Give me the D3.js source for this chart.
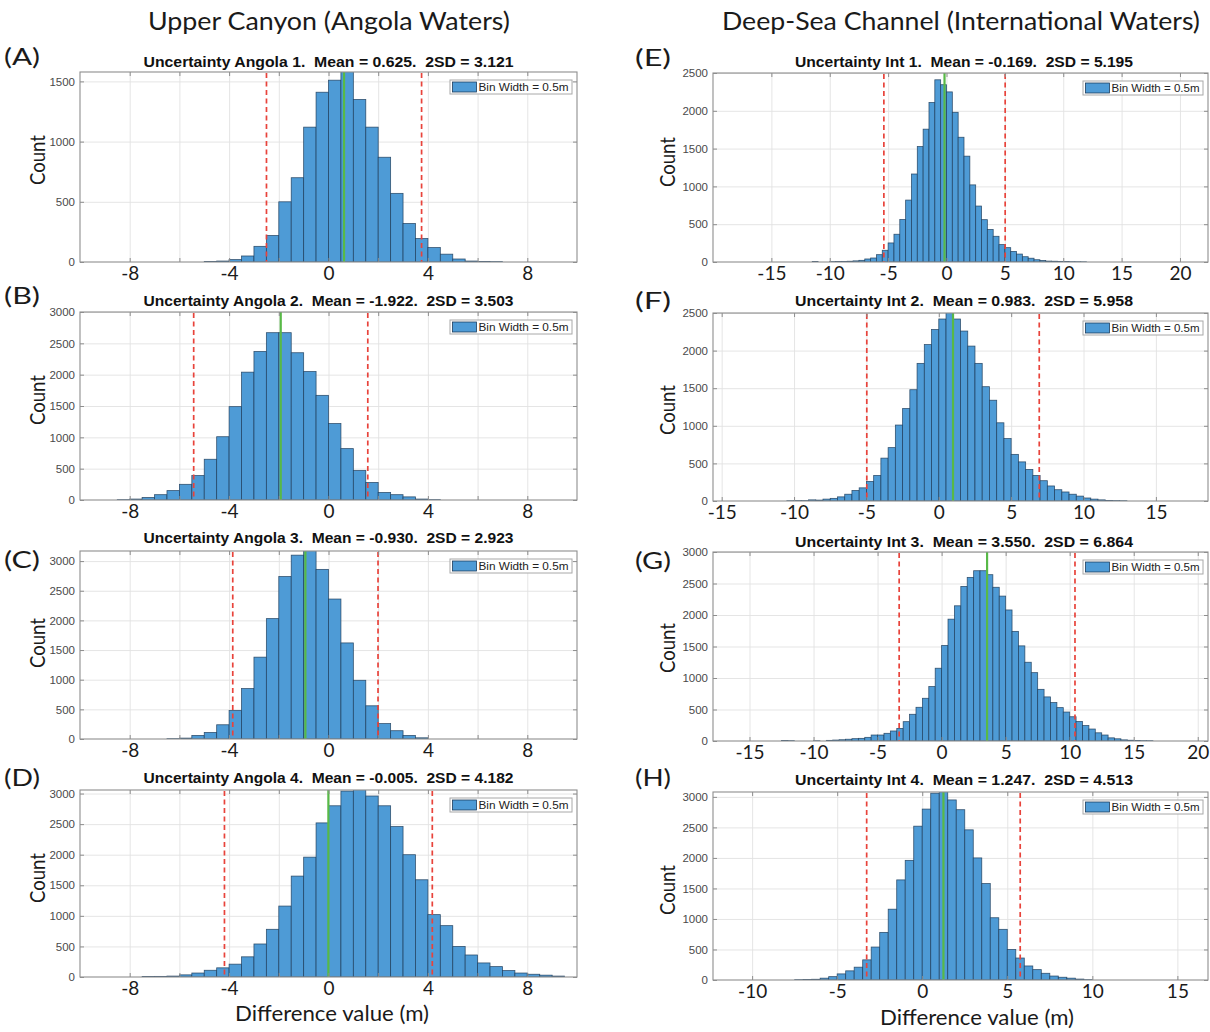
<!DOCTYPE html>
<html><head><meta charset="utf-8">
<script src="https://cdn.jsdelivr.net/npm/d3@7/dist/d3.min.js"></script>
<style>
body{margin:0;background:#fff}
text{white-space:pre}
</style>
</head><body>
<svg id="chart" width="1210" height="1032"></svg>
<script>
// ---------------- DATA ----------------
const panelIds = ["A","B","C","D","E","F","G","H"];
const columnHeaders = ["Upper Canyon (Angola Waters)", "Deep-Sea Channel (International Waters)"];
const titles = [
  "Uncertainty Angola 1.  Mean = 0.625.  2SD = 3.121",
  "Uncertainty Angola 2.  Mean = -1.922.  2SD = 3.503",
  "Uncertainty Angola 3.  Mean = -0.930.  2SD = 2.923",
  "Uncertainty Angola 4.  Mean = -0.005.  2SD = 4.182",
  "Uncertainty Int 1.  Mean = -0.169.  2SD = 5.195",
  "Uncertainty Int 2.  Mean = 0.983.  2SD = 5.958",
  "Uncertainty Int 3.  Mean = 3.550.  2SD = 6.864",
  "Uncertainty Int 4.  Mean = 1.247.  2SD = 4.513"
];
const means = [0.625, -1.922, -0.930, -0.005, -0.169, 0.983, 3.550, 1.247];
const twoSD = [3.121, 3.503, 2.923, 4.182, 5.195, 5.958, 6.864, 4.513];
const binWidth = 0.5;
const legendLabel = "Bin Width = 0.5m";
const xLabel = "Difference value (m)";
const yLabel = "Count";

// first bin left edge for each panel
const binStart = [-5, -8.5, -6.5, -7.5, -11.5, -10.5, -12.5, -7.5];

const countsA = [4,8,20,50,130,220,500,700,1120,1410,1510,1650,1350,1120,870,570,320,195,120,65,25,8,5,3];
const countsB = [5,15,40,85,150,250,390,650,1010,1490,2040,2370,2670,2670,2350,2050,1670,1220,820,470,280,120,85,50,15,5];
const countsC = [5,15,60,110,240,480,850,1380,2030,2740,3100,3250,2860,2360,1620,990,560,260,140,60,20];
const countsD = [8,10,15,35,65,110,150,210,330,540,780,1160,1650,1960,2520,2800,3040,3100,2960,2800,2460,2000,1590,1020,840,500,360,230,170,105,65,45,30,15];
const countsE = [6,0,0,5,6,8,10,15,22,40,53,97,155,252,367,562,819,1164,1527,1757,2110,2410,2345,2250,1980,1650,1400,1020,740,560,430,340,230,190,140,105,70,50,30,20,12,10,8,6,4,3,2];
const countsF = [3,5,5,15,12,25,35,55,90,140,175,260,340,570,710,1010,1230,1480,1830,2080,2280,2420,2560,2420,2260,2060,1830,1520,1340,1040,830,620,520,420,340,270,200,150,120,90,65,40,25,15,8,5,3];
const countsG = [8,5,0,0,0,3,0,10,15,20,28,37,42,58,95,95,122,159,200,307,424,535,678,864,1155,1516,1934,2146,2454,2597,2703,2703,2640,2440,2300,2080,1740,1510,1250,1085,820,700,610,530,460,385,310,245,190,130,95,50,35,18,12,8,5,4];
const countsH = [5,8,12,30,55,100,150,210,330,540,780,1160,1640,1960,2520,2800,3060,3100,2950,2790,2460,2000,1580,1020,830,500,360,230,170,110,65,45,30,15,5];
const allCounts = [countsA,countsB,countsC,countsD,countsE,countsF,countsG,countsH];

// axis limits and tick values
const xLimits = [[-10,10],[-10,10],[-10,10],[-10,10],[-20.0,22.4],[-15.6,18.6],[-17.85,20.8],[-12.3,16.8]];
const yLimits = [1578, 3000, 3170, 3058, 2500, 2500, 3000, 3080];
const leftGridTicks = [-8,-6,-4,-2,0,2,4,6,8];
const leftTickLabels = [-8,-4,0,4,8];
const rightTickLabels = [
  [-15,-10,-5,0,5,10,15,20],
  [-15,-10,-5,0,5,10,15],
  [-15,-10,-5,0,5,10,15,20],
  [-10,-5,0,5,10,15]
];
const yTickSets = [
  [0,500,1000,1500],
  [0,500,1000,1500,2000,2500,3000],
  [0,500,1000,1500,2000,2500,3000],
  [0,500,1000,1500,2000,2500,3000],
  [0,500,1000,1500,2000,2500],
  [0,500,1000,1500,2000,2500],
  [0,500,1000,1500,2000,2500,3000],
  [0,500,1000,1500,2000,2500,3000]
];

// ---------------- LAYOUT ----------------
const boxes = [ // [x0, y0, x1, y1]
  [80,72,577,262],[80,312,577,500],[80,551,577,739],[80,790,577,977],
  [713,73,1208,262],[713,313,1208,501],[713,552,1208,741],[713,792,1208,980]
];
const titleY = [67,306,543,783,67,306,547,785];
const letterY = [65,304,568,786,66,309,569,786];
const countY = [160,400,643,878,162,410,648,890];

const C = {
  bar:"#4e9bd6", barEdge:"#1d3d5c", grid:"#e2e2e2", box:"#8e8e8e",
  red:"#e8433b", green:"#58b947", ytick:"#4a4a4a", text:"#1a1a1a"
};
const bigFont = "Lato, 'Open Sans', sans-serif";
const smallFont = "'Liberation Sans', Arial, sans-serif";
const plainNum = d => String(d);

const svg = d3.select("#chart");
svg.append("rect").attr("width",1210).attr("height",1032).attr("fill","#fff");

function fit(sel, w){ sel.attr("textLength", w).attr("lengthAdjust","spacingAndGlyphs"); return sel; }

// column headers
svg.append("text").attr("x",329).attr("y",30).attr("text-anchor","middle")
  .attr("font-family",bigFont).attr("font-size",25).attr("fill",C.text)
  .text(columnHeaders[0]).call(fit,362);
svg.append("text").attr("x",961).attr("y",30).attr("text-anchor","middle")
  .attr("font-family",bigFont).attr("font-size",25).attr("fill",C.text)
  .text(columnHeaders[1]).call(fit,478);

panelIds.forEach((id, i) => {
  const [x0,y0,x1,y1] = boxes[i];
  const right = i >= 4;
  const x = d3.scaleLinear().domain(xLimits[i]).range([x0,x1]);
  const y = d3.scaleLinear().domain([0, yLimits[i]]).range([y1,y0]);
  const g = svg.append("g");
  const clipId = "clip" + id;
  g.append("clipPath").attr("id",clipId).append("rect")
    .attr("x",x0).attr("y",y0).attr("width",x1-x0).attr("height",y1-y0);

  const gridTicks = right ? rightTickLabels[i-4] : leftGridTicks;
  const labelTicks = right ? rightTickLabels[i-4] : leftTickLabels;
  const yTicks = yTickSets[i];

  // gridlines via axes
  const gx = g.append("g").attr("transform",`translate(0,${y1})`)
    .call(d3.axisBottom(x).tickValues(gridTicks).tickSize(-(y1-y0)).tickFormat(""));
  gx.select(".domain").remove();
  gx.selectAll("line").attr("stroke",C.grid).attr("stroke-width",0.9);
  const gy = g.append("g").attr("transform",`translate(${x0},0)`)
    .call(d3.axisLeft(y).tickValues(yTicks.filter(v=>v>0)).tickSize(-(x1-x0)).tickFormat(""));
  gy.select(".domain").remove();
  gy.selectAll("line").attr("stroke",C.grid).attr("stroke-width",0.9);

  // bars
  const counts = allCounts[i];
  const bins = counts.map((c,k)=>({x0: binStart[i] + k*binWidth, x1: binStart[i] + (k+1)*binWidth, c}))
    .filter(b=>b.c>0);
  g.append("g").attr("clip-path",`url(#${clipId})`).selectAll("rect").data(bins).join("rect")
    .attr("x",b=>x(b.x0)).attr("width",b=>x(b.x1)-x(b.x0))
    .attr("y",b=>y(b.c)).attr("height",b=>y(0)-y(b.c))
    .attr("fill",C.bar).attr("stroke",C.barEdge).attr("stroke-width",0.8).attr("stroke-opacity",0.85);

  // mean and 2SD lines
  const m = means[i], s = twoSD[i];
  [m - s, m + s].forEach(v => {
    g.append("line").attr("x1",x(v)).attr("x2",x(v)).attr("y1",y0+1).attr("y2",y1)
      .attr("stroke",C.red).attr("stroke-width",1.7).attr("stroke-dasharray","5,3.5");
  });
  g.append("line").attr("x1",x(m)).attr("x2",x(m)).attr("y1",y0).attr("y2",y1)
    .attr("stroke",C.green).attr("stroke-width",2.2);

  // box
  g.append("rect").attr("x",x0).attr("y",y0).attr("width",x1-x0).attr("height",y1-y0)
    .attr("fill","none").attr("stroke",C.box).attr("stroke-width",1.1);

  // inward tick marks
  const tb = g.append("g").attr("transform",`translate(0,${y1})`)
    .call(d3.axisBottom(x).tickValues(gridTicks).tickSize(-4).tickFormat(""));
  const tt = g.append("g").attr("transform",`translate(0,${y0})`)
    .call(d3.axisTop(x).tickValues(gridTicks).tickSize(-4).tickFormat(""));
  const tl = g.append("g").attr("transform",`translate(${x0},0)`)
    .call(d3.axisLeft(y).tickValues(yTicks).tickSize(-4).tickFormat(""));
  const tr = g.append("g").attr("transform",`translate(${x1},0)`)
    .call(d3.axisRight(y).tickValues(yTicks).tickSize(-4).tickFormat(""));
  [tb,tt,tl,tr].forEach(a=>{a.select(".domain").remove(); a.selectAll("line").attr("stroke",C.box);});

  // y tick labels
  const yl = g.append("g").attr("transform",`translate(${x0},0)`)
    .call(d3.axisLeft(y).tickValues(yTicks).tickSize(0).tickPadding(5).tickFormat(plainNum));
  yl.select(".domain").remove();
  yl.selectAll("text").attr("font-family",smallFont).attr("font-size",11.5).attr("fill",C.ytick);

  // x tick labels
  const xl = g.append("g").attr("transform",`translate(0,${y1})`)
    .call(d3.axisBottom(x).tickValues(labelTicks).tickSize(0).tickPadding(4).tickFormat(plainNum));
  xl.select(".domain").remove();
  xl.selectAll("text").attr("font-family",bigFont).attr("font-size",19).attr("fill",C.text);

  // title
  const tcx = right ? 964 : (x0+x1)/2;
  g.append("text").attr("x",tcx).attr("y",titleY[i]).attr("text-anchor","middle")
    .attr("font-family",smallFont).attr("font-weight","bold").attr("font-size",14.5).attr("fill","#111")
    .text(titles[i]).call(fit, right ? 338 : 370);

  // panel letter
  g.append("text").attr("x", right ? 635 : 4).attr("y",letterY[i])
    .attr("font-family",bigFont).attr("font-size",24).attr("fill",C.text)
    .text(`(${id})`).call(fit,36);

  // y label
  const cx = right ? 668 : 38;
  g.append("text").attr("transform",`translate(${cx},${countY[i]}) rotate(-90)`)
    .attr("text-anchor","middle").attr("dy","0.35em")
    .attr("font-family",bigFont).attr("font-size",21).attr("fill",C.text)
    .text(yLabel).call(fit,50);

  // legend
  const lw = right ? 120 : 122, lx = x1 - lw - 5, ly = y0 + 8, lh = 14;
  const lg = g.append("g");
  lg.append("rect").attr("x",lx).attr("y",ly).attr("width",lw).attr("height",lh)
    .attr("fill","#fff").attr("stroke","#a8a8a8").attr("stroke-width",1);
  lg.append("rect").attr("x",lx+2.5).attr("y",ly+2).attr("width",24).attr("height",lh-4)
    .attr("fill",C.bar).attr("stroke",C.barEdge).attr("stroke-width",0.8);
  lg.append("text").attr("x",lx+28.5).attr("y",ly+lh-3).attr("font-family",smallFont)
    .attr("font-size",10.5).attr("fill","#222").text(legendLabel).call(fit, lw-32);

  // x label on bottom row
  if (id === "D" || id === "H") {
    g.append("text").attr("x", right ? 977 : 332).attr("y", right ? 1025 : 1021).attr("text-anchor","middle")
      .attr("font-family",bigFont).attr("font-size",21).attr("fill",C.text)
      .text(xLabel).call(fit,194);
  }
});
</script>
</body></html>
